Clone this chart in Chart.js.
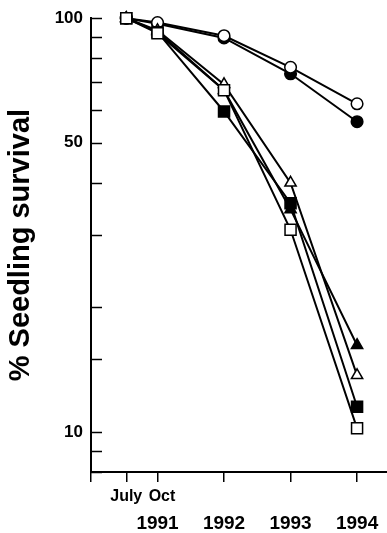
<!DOCTYPE html>
<html>
<head>
<meta charset="utf-8">
<script src="https://cdn.jsdelivr.net/npm/chart.js@4/dist/chart.umd.min.js"></script>
<style>
  html, body { margin: 0; padding: 0; background: #fff; overflow: hidden; }
  canvas { display: block; }
</style>
</head>
<body>
<canvas id="survChart" width="387" height="533"></canvas>
<script>
// sampling dates (years since mid-1990: July 1991, Oct 1991, then 1992-1994)
const xPositions = [0.53, 1, 2, 3, 4];
const monthLabels = ['July', '  Oct', '', '', ''];
const yearLabels = ['', '1991', '1992', '1993', '1994'];
const yLabelled = [10, 50, 100];

// % seedling survival for each group
const openCircle = [100, 97.6, 90.7, 76.1, 62.1];
const filledCircle = [100, 97.0, 89.6, 73.4, 56.2];
const openTriangle = [100, 93.5, 69.2, 40.0, 13.7];
const filledTriangle = [100, 93.0, 67.0, 34.5, 16.2];
const filledSquare = [100, 92.5, 59.5, 35.7, 11.5];
const openSquare = [100, 92.0, 67.0, 30.8, 10.2];

const font = "'Liberation Sans', Arial, Helvetica, sans-serif";

function series(values, style, filled, radius) {
  return {
    data: values.map((v, i) => ({ x: xPositions[i], y: v })),
    borderColor: '#000',
    borderWidth: 2,
    pointStyle: style,
    pointRadius: radius,
    pointHoverRadius: radius,
    pointBackgroundColor: filled ? '#000' : '#fff',
    pointBorderColor: '#000',
    pointBorderWidth: 1.5,
    fill: false,
    clip: false,
    tension: 0
  };
}

// y ticks on this chart point inwards
const inwardTicks = {
  id: 'inwardTicks',
  afterDatasetsDraw(chart) {
    const y = chart.scales.y;
    const left = chart.chartArea.left;
    const c = chart.ctx;
    c.save();
    c.strokeStyle = '#000';
    c.lineWidth = 1.5;
    y.ticks.forEach(t => {
      const py = Math.round(y.getPixelForValue(t.value)) + 0.5;
      c.beginPath();
      c.moveTo(left, py);
      c.lineTo(left + 11, py);
      c.stroke();
    });
    c.restore();
  }
};

function xLabel(list) {
  return v => {
    const i = xPositions.indexOf(v);
    return i < 0 ? '' : list[i];
  };
}

const ctx = document.getElementById('survChart').getContext('2d');
const survChart = new Chart(ctx, {
  type: 'line',
  data: {
    datasets: [
      series(openSquare, 'rect', false, 7.8),
      series(filledSquare, 'rect', true, 7.8),
      series(openTriangle, 'triangle', false, 6.5),
      series(filledTriangle, 'triangle', true, 6.5),
      series(openCircle, 'circle', false, 5.8),
      series(filledCircle, 'circle', true, 5.8)
    ]
  },
  options: {
    responsive: false,
    animation: false,
    layout: { autoPadding: false, padding: { top: 16, right: 0, left: 0, bottom: 0 } },
    plugins: { legend: { display: false }, tooltip: { enabled: false } },
    scales: {
      x: {
        type: 'linear',
        min: 0,
        max: 4.45,
        weight: 0,
        afterBuildTicks: s => { s.ticks = [0].concat(xPositions).map(v => ({ value: v })); },
        afterFit: s => { s.height = 36; },
        grid: { drawOnChartArea: false, drawTicks: true, tickLength: 10, color: '#000', lineWidth: 1.5 },
        border: { display: true, color: '#000', width: 2 },
        ticks: {
          autoSkip: false,
          maxRotation: 0,
          padding: 5,
          color: '#000',
          font: { family: font, size: 16, weight: 'bold', lineHeight: 1.2 },
          callback: xLabel(monthLabels)
        }
      },
      years: {
        type: 'linear',
        position: 'bottom',
        axis: 'x',
        min: 0,
        max: 4.45,
        weight: 1,
        afterBuildTicks: s => { s.ticks = xPositions.map(v => ({ value: v })); },
        afterFit: s => { s.height = 25; },
        grid: { display: false, drawTicks: false },
        border: { display: false },
        ticks: {
          autoSkip: false,
          maxRotation: 0,
          padding: 4,
          color: '#000',
          font: { family: font, size: 19, weight: 'bold', lineHeight: 1.2 },
          callback: xLabel(yearLabels)
        }
      },
      y: {
        type: 'logarithmic',
        min: 8,
        max: 100,
        afterFit: s => { s.width = 91; },
        grid: { drawOnChartArea: false, drawTicks: false },
        border: { display: true, color: '#000', width: 2 },
        ticks: {
          autoSkip: false,
          padding: 8,
          color: '#000',
          font: { family: font, size: 17, weight: 'bold' },
          callback: v => yLabelled.includes(v) ? String(v) : ''
        },
        title: {
          display: true,
          text: '% Seedling survival',
          color: '#000',
          padding: { top: 4, bottom: 0 },
          font: { family: font, size: 29, weight: 'bold', lineHeight: 1.2 }
        }
      }
    }
  },
  plugins: [inwardTicks]
});
</script>
</body>
</html>
